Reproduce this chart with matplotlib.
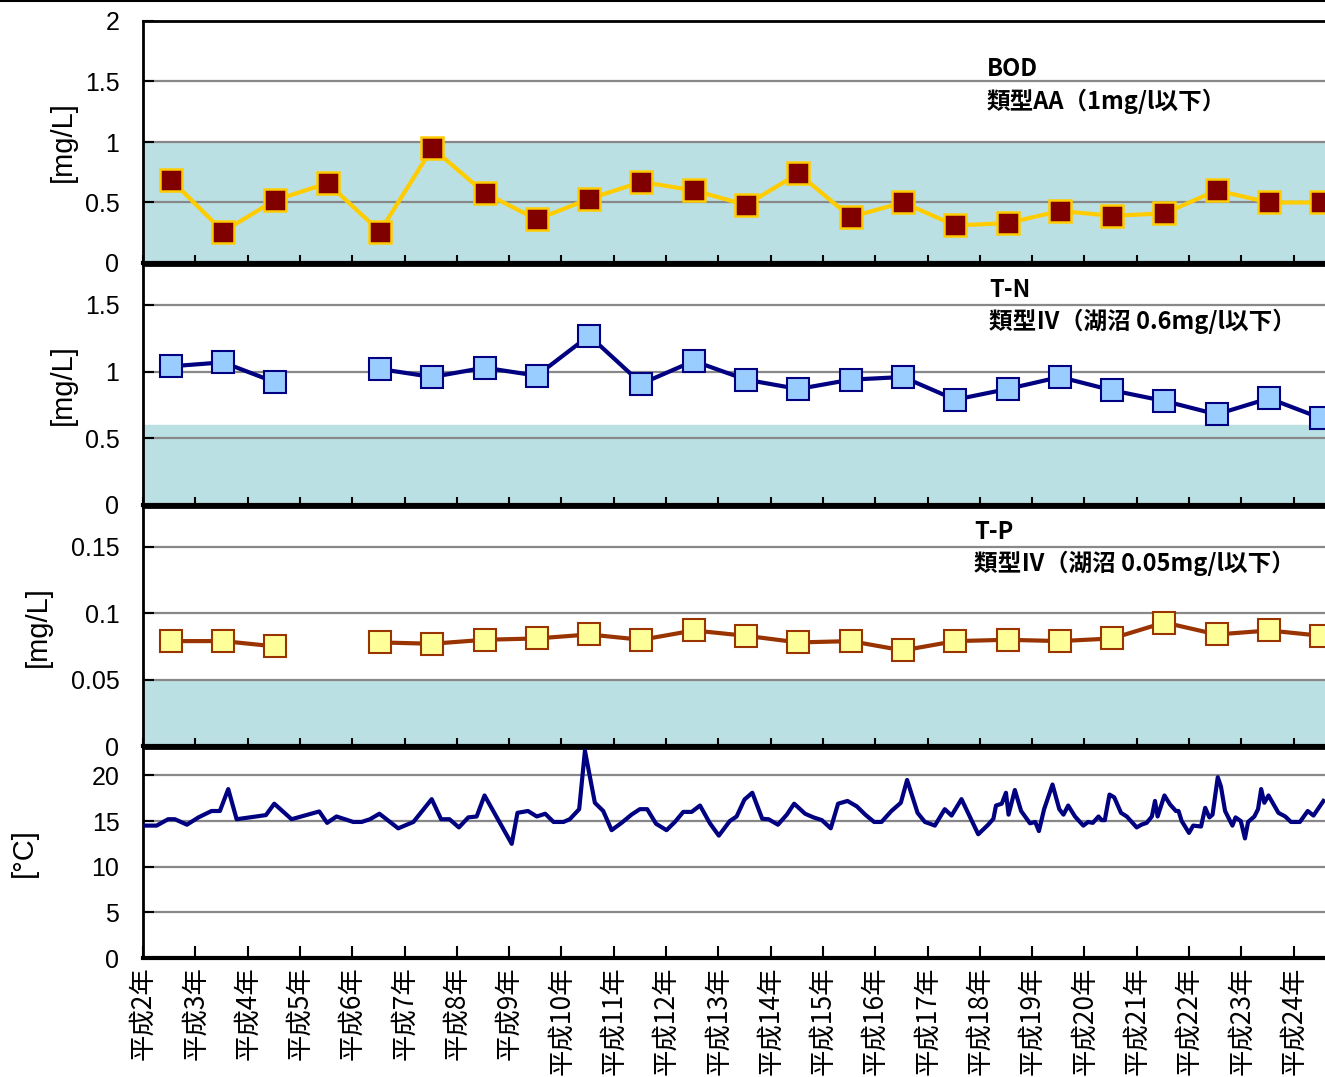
import numpy as np
import matplotlib
matplotlib.use('Agg')
import matplotlib.pyplot as plt
from matplotlib.lines import Line2D

plt.rcParams['font.family'] = ['Liberation Sans', 'Noto Sans CJK JP', 'DejaVu Sans']

# 年度ラベル (平成2年〜平成24年)
years = ['平成2年', '平成3年', '平成4年', '平成5年', '平成6年', '平成7年', '平成8年',
         '平成9年', '平成10年', '平成11年', '平成12年', '平成13年', '平成14年',
         '平成15年', '平成16年', '平成17年', '平成18年', '平成19年', '平成20年',
         '平成21年', '平成22年', '平成23年', '平成24年']

bod = [0.69, 0.26, 0.52, 0.66, 0.26, 0.95, 0.58, 0.36, 0.53, 0.67, 0.60, 0.48,
       0.74, 0.38, 0.50, 0.31, 0.33, 0.43, 0.39, 0.41, 0.60, 0.50, 0.50]
tn = [1.04, 1.07, 0.92, np.nan, 1.02, 0.96, 1.03, 0.97, 1.27, 0.91, 1.08, 0.94,
      0.87, 0.94, 0.96, 0.79, 0.87, 0.96, 0.86, 0.78, 0.68, 0.80, 0.65]
tp = [0.079, 0.079, 0.075, np.nan, 0.078, 0.077, 0.080, 0.081, 0.084, 0.080, 0.087,
      0.083, 0.078, 0.079, 0.072, 0.079, 0.080, 0.079, 0.081, 0.093, 0.084, 0.087, 0.083]

# 水温 (時期, 値)
temp_t = [0.0, 0.26, 0.48, 0.61, 0.84, 1.06, 1.31, 1.47, 1.63, 1.79, 2.35, 2.51, 2.84,
          3.37, 3.52, 3.70, 4.02, 4.18, 4.34, 4.52, 4.88, 5.17, 5.52, 5.70, 5.86, 6.04,
          6.22, 6.38, 6.53, 7.05, 7.16, 7.36, 7.53, 7.69, 7.85, 8.04, 8.16, 8.34, 8.45,
          8.64, 8.80, 8.96, 9.15, 9.34, 9.50, 9.64, 9.81, 10.01, 10.17, 10.33, 10.49,
          10.65, 10.84, 11.01, 11.22, 11.35, 11.50, 11.65, 11.84, 11.96, 12.14, 12.31,
          12.45, 12.66, 12.82, 12.98, 13.15, 13.29, 13.47, 13.65, 13.81, 13.98, 14.12,
          14.31, 14.49, 14.61, 14.81, 14.95, 15.05, 15.14, 15.33, 15.46, 15.65, 15.97,
          16.16, 16.26, 16.31, 16.42, 16.50, 16.55, 16.67, 16.79, 16.96, 17.06, 17.13,
          17.23, 17.39, 17.52, 17.60, 17.69, 17.82, 17.98, 18.07, 18.16, 18.27, 18.33,
          18.39, 18.48, 18.57, 18.70, 18.81, 19.00, 19.09, 19.19, 19.29, 19.35, 19.40,
          19.53, 19.64, 19.75, 19.80, 19.86, 20.00, 20.08, 20.23, 20.31, 20.39, 20.45,
          20.55, 20.61, 20.69, 20.83, 20.89, 20.99, 21.07, 21.13, 21.25, 21.32, 21.38,
          21.44, 21.52, 21.71, 21.84, 21.95, 22.12, 22.27, 22.38, 22.57]
temp_v = [14.5, 14.5, 15.2, 15.2, 14.6, 15.4, 16.1, 16.1, 18.5, 15.2, 15.65, 16.9, 15.2,
          16.05, 14.8, 15.5, 14.9, 14.9, 15.2, 15.8, 14.2, 14.9, 17.4, 15.2, 15.2, 14.3,
          15.4, 15.5, 17.8, 12.5, 15.9, 16.1, 15.5, 15.8, 14.9, 14.9, 15.2, 16.3, 22.7,
          17.0, 16.1, 14.0, 14.8, 15.7, 16.3, 16.3, 14.7, 14.0, 14.9, 16.0, 16.0,
          16.7, 14.75, 13.4, 15.0, 15.5, 17.35, 18.1, 15.25, 15.2, 14.6, 15.7,
          16.9, 15.8, 15.4, 15.1, 14.2, 16.9, 17.2, 16.6, 15.7, 14.9, 14.9,
          16.1, 17.0, 19.5, 15.9, 14.9, 14.7, 14.5, 16.3, 15.6, 17.4, 13.55,
          14.6, 15.25, 16.7, 16.9, 18.1, 15.7, 18.4, 16.1, 14.75, 14.9, 13.9,
          16.3, 19.0, 16.3, 15.7, 16.7, 15.5, 14.5, 14.9, 14.8, 15.5, 15.1,
          15.1, 17.9, 17.6, 15.9, 15.5, 14.3, 14.6, 14.8, 15.5, 17.2, 15.5,
          17.8, 16.8, 16.1, 16.1, 15.0, 13.7, 14.5, 14.4, 16.45, 15.4, 15.7,
          19.8, 18.8, 16.1, 14.5, 15.4, 15.0, 13.1, 14.9, 15.5, 16.3, 18.5,
          17.0, 17.8, 15.9, 15.5, 14.9, 14.9, 16.1, 15.6, 17.2]

x = np.arange(len(years)) + 0.53
shade = '#BBE0E3'
grid_c = '#888888'
jp = ['Noto Sans CJK JP']

fig = plt.figure(figsize=(13.25, 10.77), dpi=100)
W, H = 1325.0, 1077.0
left = 143 / W
width = 1182 / W
xmax = 1182 / 52.3

def make_ax(top_px, bot_px):
    ax = fig.add_axes([left, 1 - bot_px / H, width, (bot_px - top_px) / H])
    ax.set_xlim(0, xmax)
    ax.set_xticks(np.arange(len(years)))
    ax.tick_params(axis='x', direction='in', length=6, width=1.5, labelbottom=False)
    ax.tick_params(axis='y', direction='in', length=8, width=1.5, labelsize=18, pad=17)
    ax.spines['right'].set_visible(False)
    ax.spines['left'].set_linewidth(2)
    ax.spines['top'].set_linewidth(2)
    ax.spines['bottom'].set_linewidth(3)
    ax.yaxis.grid(True, color=grid_c, linewidth=1.6)
    ax.set_axisbelow(True)
    return ax

def note(ax, xa, y1, y2, t1, t2):
    ax.text(xa, y1, t1, transform=ax.transAxes, fontsize=17, fontweight='bold',
            family=jp, va='center')
    ax.text(xa, y2, t2, transform=ax.transAxes, fontsize=17, fontweight='bold',
            family=jp, va='center')

# BOD
ax1 = make_ax(21, 263)
ax1.set_ylim(0, 2)
ax1.axhspan(0, 1, color=shade, zorder=0)
ax1.set_yticks([0, 0.5, 1, 1.5, 2])
ax1.set_yticklabels(['0', '0.5', '1', '1.5', '2'])
ax1.plot(x, bod, color='#FFCC00', lw=3, marker='s', ms=16,
         mfc='#800000', mec='#FFCC00', mew=1.8, zorder=3)
ax1.set_ylabel('[mg/L]', fontsize=21)
ax1.yaxis.set_label_coords(-0.056, 0.5)
note(ax1, 0.714, 0.80, 0.67, 'BOD', '類型AA（1mg/l以下）')

# T-N
ax2 = make_ax(265, 505)
ax2.set_ylim(0, 1.8)
ax2.axhspan(0, 0.6, color=shade, zorder=0)
ax2.set_yticks([0, 0.5, 1, 1.5])
ax2.set_yticklabels(['0', '0.5', '1', '1.5'])
ax2.plot(x, tn, color='#000080', lw=3, marker='s', ms=16,
         mfc='#99CCFF', mec='#000080', mew=1.5, zorder=3)
ax2.set_ylabel('[mg/L]', fontsize=21)
ax2.yaxis.set_label_coords(-0.056, 0.5)
note(ax2, 0.716, 0.895, 0.765, 'T-N', '類型Ⅳ（湖沼 0.6mg/l以下）')

# T-P
ax3 = make_ax(507, 746)
ax3.set_ylim(0, 0.18)
ax3.axhspan(0, 0.05, color=shade, zorder=0)
ax3.set_yticks([0, 0.05, 0.1, 0.15])
ax3.set_yticklabels(['0', '0.05', '0.1', '0.15'])
ax3.plot(x, tp, color='#993300', lw=3, marker='s', ms=16,
         mfc='#FFFF99', mec='#993300', mew=1.5, zorder=3)
ax3.set_ylabel('[mg/L]', fontsize=21)
ax3.yaxis.set_label_coords(-0.077, 0.5)
note(ax3, 0.703, 0.895, 0.765, 'T-P', '類型Ⅳ（湖沼 0.05mg/l以下）')

# 水温
ax4 = make_ax(748, 958)
ax4.set_ylim(0, 23)
ax4.set_yticks([0, 5, 10, 15, 20])
ax4.set_yticklabels(['0', '5', '10', '15', '20'])
ax4.plot(temp_t, temp_v, color='#000080', lw=3, zorder=3)
ax4.tick_params(axis='x', length=9, labelbottom=True, labelsize=19, pad=6)
ax4.set_xticklabels(years, rotation=90, family=jp)
ax4.set_ylabel('[°C]', fontsize=21)
ax4.yaxis.set_label_coords(-0.089, 0.5)

fig.add_artist(Line2D([0, 1], [0.999, 0.999], color='black', lw=1.5))

fig.savefig('out.png', dpi=100)
